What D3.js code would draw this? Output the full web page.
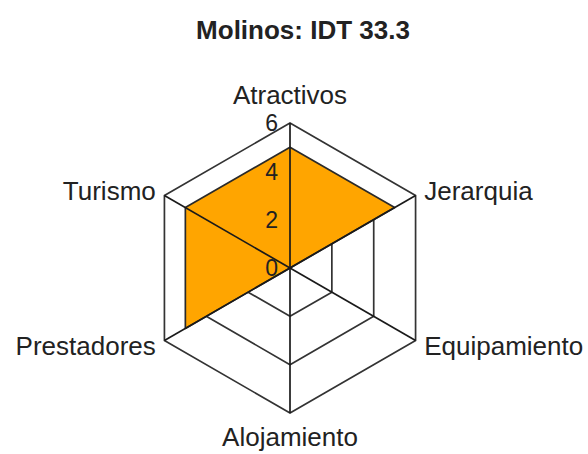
<!DOCTYPE html>
<html>
<head>
<meta charset="utf-8">
<script src="https://cdn.jsdelivr.net/npm/d3@7"></script>
<style>
  body { margin: 0; background: #fff; }
  text { font-family: "Liberation Sans", Arial, sans-serif; fill: #222; }
</style>
</head>
<body>
<div id="chart"></div>
<script>
// Data
const titleText = "Molinos: IDT 33.3";
const axes = ["Atractivos", "Jerarquia", "Equipamiento", "Alojamiento", "Prestadores", "Turismo"];
const values = [5, 5, 0, 0, 5, 5];
const levels = [0, 2, 4, 6];

const width = 588, height = 454;
const cx = 290, cy = 268, R = 145;

const svg = d3.select("#chart")
    .append("svg")
    .attr("width", width)
    .attr("height", height);

const r = d3.scaleLinear().domain([0, 6]).range([0, R]);
// angle measured clockwise from the top
const angle = d3.scaleLinear().domain([0, axes.length]).range([0, 2 * Math.PI]);

const pt = (i, v) => [cx + r(v) * Math.sin(angle(i)), cy - r(v) * Math.cos(angle(i))];

const g = svg.append("g");

// Rings
levels.filter(l => l > 0).forEach(l => {
    g.append("polygon")
        .attr("points", axes.map((a, i) => pt(i, l).join(",")).join(" "))
        .attr("fill", "none")
        .attr("stroke", "#333")
        .attr("stroke-width", 1.7);
});

// Data polygon
g.append("polygon")
    .attr("points", values.map((v, i) => pt(i, v).join(",")).join(" "))
    .attr("fill", "#FFA500")
    .attr("stroke", "#2a2a2a")
    .attr("stroke-width", 1.7)
    .attr("stroke-linejoin", "round");

// Spokes
axes.forEach((a, i) => {
    const [x, y] = pt(i, 6);
    g.append("line")
        .attr("x1", cx).attr("y1", cy)
        .attr("x2", x).attr("y2", y)
        .attr("stroke", "#1a1a1a")
        .attr("stroke-width", 1.7);
});

// Axis labels
axes.forEach((a, i) => {
    const s = Math.sin(angle(i)), c = Math.cos(angle(i));
    const vertical = Math.abs(s) < 0.01;
    const d = R + (vertical ? (c > 0 ? 28 : 24) : 10);
    g.append("text")
        .attr("x", cx + d * s)
        .attr("y", cy - d * c)
        .attr("dy", "0.36em")
        .attr("text-anchor", vertical ? "middle" : (s > 0 ? "start" : "end"))
        .attr("font-size", 26)
        .text(a);
});

// Level labels
levels.forEach(l => {
    g.append("text")
        .attr("x", cx - 12)
        .attr("y", cy - r(l))
        .attr("dy", "0.36em")
        .attr("text-anchor", "end")
        .attr("font-size", 23)
        .text(l);
});

// Title
svg.append("text")
    .attr("x", 303)
    .attr("y", 39)
    .attr("text-anchor", "middle")
    .attr("font-size", 26)
    .attr("font-weight", "bold")
    .text(titleText);
</script>
</body>
</html>
